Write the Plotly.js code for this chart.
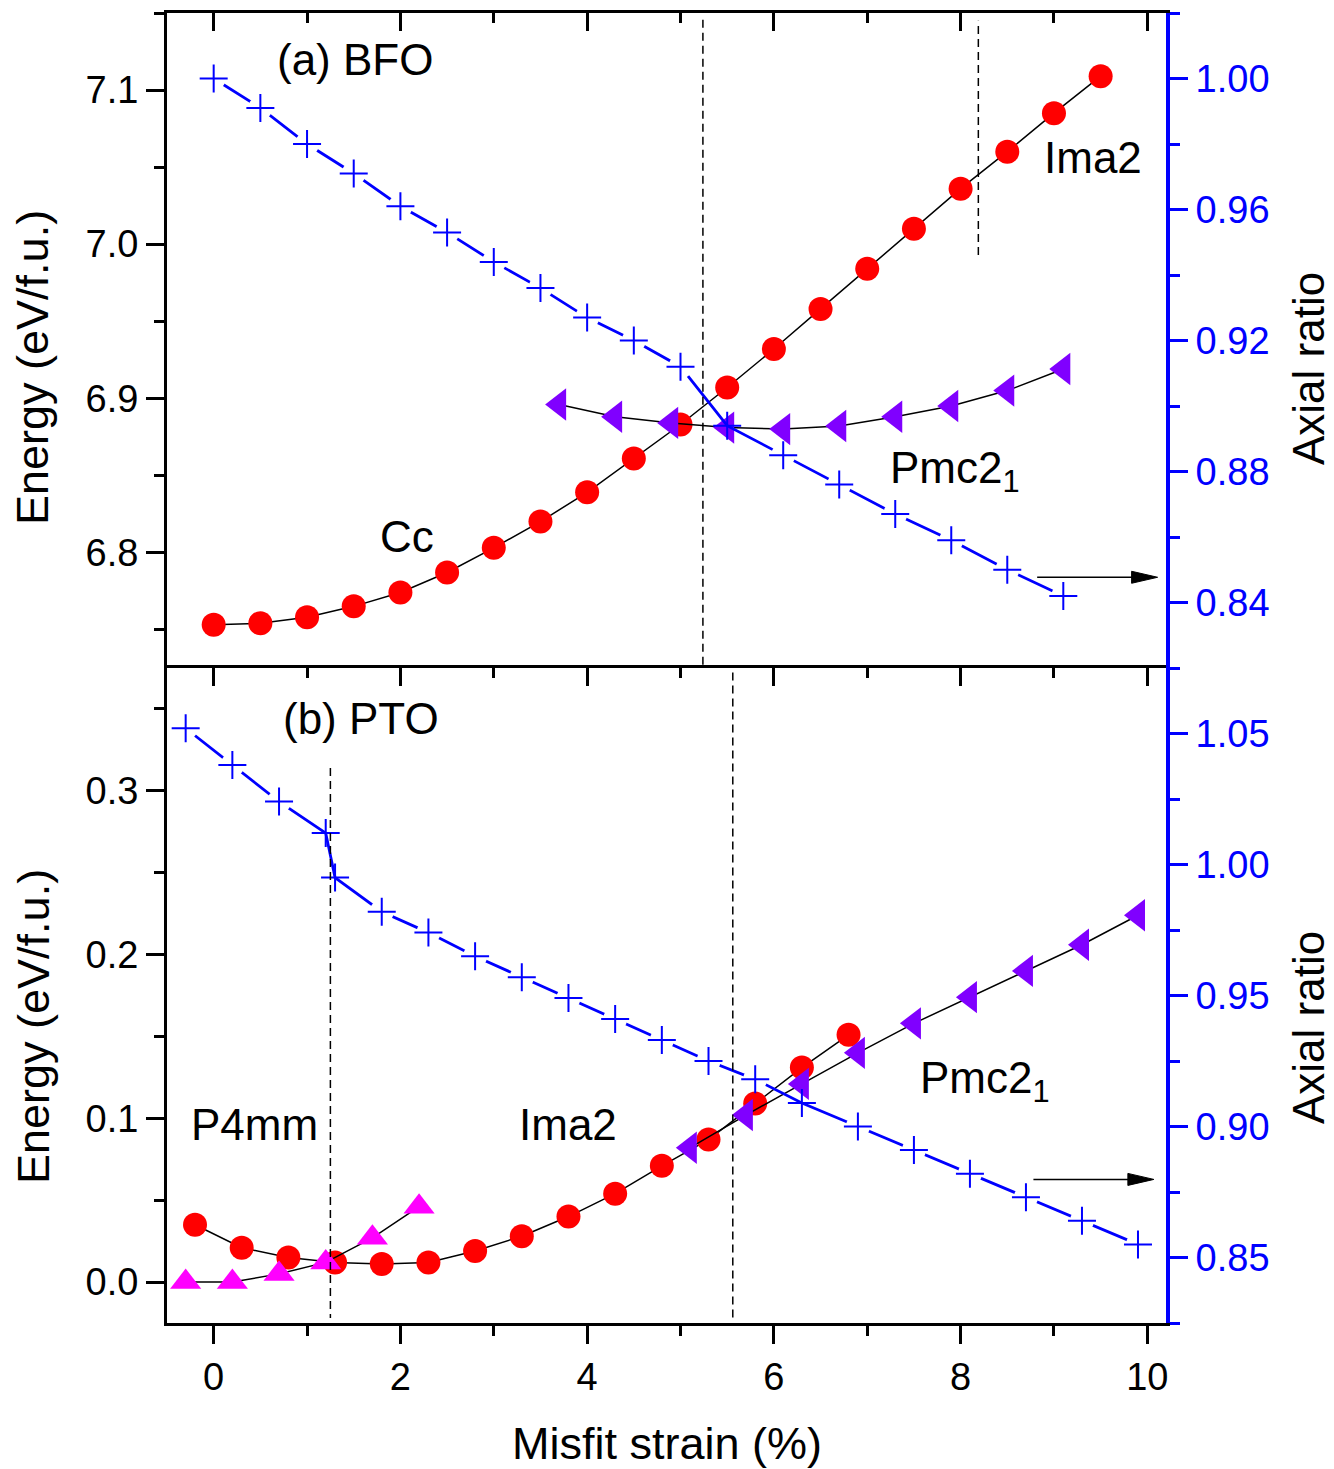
<!DOCTYPE html>
<html>
<head>
<meta charset="utf-8">
<script src="https://cdn.plot.ly/plotly-3.0.1.min.js"></script>
<style>html,body{margin:0;padding:0;background:#fff;}</style>
</head>
<body>
<div id="chart" style="width:1334px;height:1469px;"></div>
<script>
// ---------------- Panel (a) BFO ----------------
const bfoCcStrain  = [0,0.5,1,1.5,2,2.5,3,3.5,4,4.5,5,5.5,6,6.5,7,7.5,8,8.5,9,9.5];
const bfoCcEnergy  = [6.753,6.754,6.758,6.765,6.774,6.787,6.803,6.820,6.839,6.861,6.883,6.907,6.932,6.958,6.984,7.010,7.036,7.060,7.085,7.109];
const bfoPmcStrain = [3.7,4.3,4.9,5.5,6.1,6.7,7.3,7.9,8.5,9.1];
const bfoPmcEnergy = [6.896,6.888,6.884,6.881,6.880,6.882,6.888,6.895,6.905,6.919];
const bfoRatioStrain = [0,0.5,1,1.5,2,2.5,3,3.5,4,4.5,5,5.5,6.1,6.7,7.3,7.9,8.5,9.1];
const bfoRatio       = [1.000,0.991,0.980,0.971,0.961,0.953,0.944,0.936,0.927,0.920,0.912,0.894,0.885,0.876,0.867,0.859,0.850,0.842];
const bfoBoundaries  = [5.24, 8.19];

// ---------------- Panel (b) PTO ----------------
const ptoP4mmStrain = [-0.3,0.2,0.7,1.2,1.7,2.2];
const ptoP4mmEnergy = [0.000,0.000,0.005,0.012,0.027,0.046];
const ptoImaStrain  = [-0.2,0.3,0.8,1.3,1.8,2.3,2.8,3.3,3.8,4.3,4.8,5.3,5.8,6.3,6.8];
const ptoImaEnergy  = [0.035,0.021,0.015,0.012,0.011,0.012,0.019,0.028,0.040,0.054,0.071,0.087,0.109,0.131,0.151];
const ptoPmcStrain  = [5.1,5.7,6.3,6.9,7.5,8.1,8.7,9.3,9.9];
const ptoPmcEnergy  = [0.082,0.102,0.121,0.140,0.158,0.174,0.190,0.206,0.224];
const ptoRatioStrain = [-0.3,0.2,0.7,1.2,1.3,1.8,2.3,2.8,3.3,3.8,4.3,4.8,5.3,5.8,6.3,6.9,7.5,8.1,8.7,9.3,9.9];
const ptoRatio       = [1.052,1.038,1.024,1.012,0.995,0.982,0.974,0.965,0.957,0.949,0.941,0.933,0.925,0.918,0.909,0.900,0.891,0.882,0.873,0.864,0.855];
const ptoBoundaries  = [1.25, 5.56];

// tick labels
const xTickVals = [0,2,4,6,8,10];

// ---------------- styling ----------------
const FONT = 'Liberation Sans, Arial, Helvetica, sans-serif';
const BLACK = '#000000', BLUE = '#0000FF', RED = '#FF0000', VIOLET = '#8000FF', MAGENTA = '#FF00FF';
const W = 1334, H = 1469, ML = 167, MR = 168, MT = 13, MB = 146;
const PW = W - ML - MR, PH = H - MT - MB;
const px2x = p => (p - ML) / PW;
const py2y = p => (H - MB - p) / PH;

// points where the line gap around a "+" would hide neighbouring symbols (style only)
const bfoNoGap = [5.5];
const ptoNoGap = [1.2, 1.3, 6.3];

const connector = {color: BLACK, width: 1.5};
function circleTrace(x, y, xa, ya) {
  return {x, y, xaxis: xa, yaxis: ya, type: 'scatter', mode: 'lines+markers',
    line: connector, marker: {symbol: 'circle', size: 24, color: RED, line: {width: 0}}, hoverinfo: 'skip'};
}
function triTrace(x, y, xa, ya, sym, col, sz) {
  return {x, y, xaxis: xa, yaxis: ya, type: 'scatter', mode: 'lines+markers',
    line: connector, marker: {symbol: sym, size: sz, color: col, line: {width: 0}}, hoverinfo: 'skip'};
}
function ratioTraces(x, y, xa, ya, noGap) {
  const gapOpacity = x.map(v => noGap.some(s => Math.abs(s - v) < 1e-9) ? 0 : 1);
  return [
    {x, y, xaxis: xa, yaxis: ya, type: 'scatter', mode: 'lines', line: {color: BLUE, width: 2.8}, hoverinfo: 'skip'},
    {x, y, xaxis: xa, yaxis: ya, type: 'scatter', mode: 'markers',
      marker: {symbol: 'circle', size: 24, color: '#ffffff', opacity: gapOpacity, line: {width: 0}}, hoverinfo: 'skip'},
    {x, y, xaxis: xa, yaxis: ya, type: 'scatter', mode: 'markers',
      marker: {symbol: 'cross-thin', size: 20, color: BLUE, line: {width: 2, color: BLUE}}, hoverinfo: 'skip'}
  ];
}

const traces = [
  circleTrace(bfoCcStrain, bfoCcEnergy, 'x2', 'y3'),
  triTrace(bfoPmcStrain, bfoPmcEnergy, 'x2', 'y3', 'triangle-left', VIOLET, 28),
  ...ratioTraces(bfoRatioStrain, bfoRatio, 'x2', 'y4', bfoNoGap),
  circleTrace(ptoImaStrain, ptoImaEnergy, 'x', 'y'),
  triTrace(ptoP4mmStrain, ptoP4mmEnergy, 'x', 'y', 'triangle-up', MAGENTA, 27),
  triTrace(ptoPmcStrain, ptoPmcEnergy, 'x', 'y', 'triangle-left', VIOLET, 28),
  ...ratioTraces(ptoRatioStrain, ptoRatio, 'x', 'y2', ptoNoGap),
  // invisible anchor for top axis of panel (b)
  {x: [0], y: [0], xaxis: 'x3', yaxis: 'y', type: 'scatter', mode: 'markers', marker: {opacity: 0}, hoverinfo: 'skip'}
];

const XR = [-0.5, 10.2];
const TF = 38;
const tickFont = {family: FONT, size: TF, color: BLACK};
const blueFont = {family: FONT, size: TF, color: BLUE};
const MAJ = 18, MIN = 10, TW = 3;

function xAxis(extra) {
  return Object.assign({range: XR, tickmode: 'array', tickvals: xTickVals, ticktext: xTickVals.map(String),
    ticklen: MAJ, tickwidth: TW, tickcolor: BLACK, showline: true, linewidth: 3, linecolor: BLACK,
    showgrid: false, zeroline: false, tickfont: tickFont}, extra);
}
function minorX(dir) {
  return {tickmode: 'linear', tick0: 0, dtick: 1, ticks: dir, ticklen: MIN, tickwidth: TW, tickcolor: BLACK, showgrid: false};
}
function yAxis(extra, col, font) {
  return Object.assign({tickmode: 'linear', ticklen: MAJ, tickwidth: TW, tickcolor: col, ticks: 'outside',
    showline: true, linecolor: col, showgrid: false, zeroline: false, tickfont: font}, extra);
}
function minorY(dt, col) {
  return {tickmode: 'linear', tick0: 0, dtick: dt, ticks: 'outside', ticklen: MIN, tickwidth: TW, tickcolor: col, showgrid: false};
}

const txt = (size) => ({family: FONT, size: size, color: BLACK});
function label(text, xr, yr, x, y) {
  return {text, xref: xr, yref: yr, x, y, xanchor: 'center', yanchor: 'middle', showarrow: false, font: txt(44)};
}
function paperLabel(text, px, py, angle, size) {
  return {text, xref: 'paper', yref: 'paper', x: px2x(px), y: py2y(py), xanchor: 'center', yanchor: 'middle',
    textangle: angle, showarrow: false, font: txt(size)};
}
const dashed = {color: BLACK, width: 1.5, dash: '8px,5px'};

const layout = {
  width: W, height: H,
  margin: {l: ML, r: MR, t: MT, b: MB, pad: 0},
  paper_bgcolor: '#ffffff', plot_bgcolor: 'rgba(0,0,0,0)',
  showlegend: false, hovermode: false,
  font: {family: FONT, color: BLACK},
  xaxis: xAxis({domain: [0, 1], anchor: 'y', ticks: 'outside', minor: minorX('outside')}),
  xaxis2: xAxis({domain: [0, 1], anchor: 'y3', side: 'top', ticks: 'inside', showticklabels: false, minor: minorX('inside')}),
  xaxis3: xAxis({overlaying: 'x', anchor: 'y', side: 'top', ticks: 'inside', showticklabels: false, minor: minorX('inside')}),
  yaxis: yAxis({domain: [0, 0.5], anchor: 'x', range: [-0.025, 0.375], tick0: 0, dtick: 0.1, tickformat: '.1f', linewidth: 3,
    minor: minorY(0.05, BLACK)}, BLACK, tickFont),
  yaxis2: yAxis({overlaying: 'y', side: 'right', anchor: 'x', range: [0.825, 1.075], tick0: 0, dtick: 0.05, tickformat: '.2f', linewidth: 4,
    minor: minorY(0.025, BLUE)}, BLUE, blueFont),
  yaxis3: yAxis({domain: [0.5, 1], anchor: 'x2', range: [6.725, 7.15], tick0: 0, dtick: 0.1, tickformat: '.1f', linewidth: 3,
    minor: minorY(0.05, BLACK)}, BLACK, tickFont),
  yaxis4: yAxis({overlaying: 'y3', side: 'right', anchor: 'x2', range: [0.82, 1.02], tick0: 0, dtick: 0.04, tickformat: '.2f', linewidth: 4,
    minor: minorY(0.02, BLUE)}, BLUE, blueFont),
  shapes: [
    // phase boundaries (a)
    {type: 'line', xref: 'x2', yref: 'y3 domain', x0: bfoBoundaries[0], x1: bfoBoundaries[0], y0: 0.005, y1: 0.99, line: dashed},
    {type: 'line', xref: 'x2', yref: 'y3', x0: bfoBoundaries[1], x1: bfoBoundaries[1], y0: 6.993, y1: 7.145, line: dashed},
    // phase boundaries (b)
    {type: 'line', xref: 'x', yref: 'y', x0: ptoBoundaries[0], x1: ptoBoundaries[0], y0: 0.314, y1: -0.022, line: dashed},
    {type: 'line', xref: 'x', yref: 'y domain', x0: ptoBoundaries[1], x1: ptoBoundaries[1], y0: 0.993, y1: 0.005, line: dashed},
    // arrows pointing to the right axis
    {type: 'line', xref: 'x2', yref: 'y4', x0: 8.82, x1: 10.0, y0: 0.8477, y1: 0.8477, line: {color: BLACK, width: 1.5}},
    {type: 'path', xref: 'x2', yref: 'y4', xsizemode: 'pixel', ysizemode: 'pixel', xanchor: 10.11, yanchor: 0.8477,
      path: 'M-26,-6 L0,0 L-26,6 Z', fillcolor: BLACK, line: {color: BLACK, width: 1}},
    {type: 'line', xref: 'x', yref: 'y2', x0: 8.78, x1: 9.95, y0: 0.8798, y1: 0.8798, line: {color: BLACK, width: 1.5}},
    {type: 'path', xref: 'x', yref: 'y2', xsizemode: 'pixel', ysizemode: 'pixel', xanchor: 10.07, yanchor: 0.8798,
      path: 'M-26,-6 L0,0 L-26,6 Z', fillcolor: BLACK, line: {color: BLACK, width: 1}}
  ],
  annotations: [
    label('(a) BFO', 'x2', 'y3', 1.51, 7.1197),
    label('Ima2', 'x2', 'y3', 9.42, 7.056),
    label('Pmc2<sub>1</sub>', 'x2', 'y3', 7.94, 6.853),
    label('Cc', 'x2', 'y3', 2.07, 6.8103),
    label('(b) PTO', 'x', 'y', 1.58, 0.344),
    label('P4mm', 'x', 'y', 0.44, 0.096),
    label('Ima2', 'x', 'y', 3.79, 0.096),
    label('Pmc2<sub>1</sub>', 'x', 'y', 8.26, 0.123),
    // axis titles
    paperLabel('Energy (eV/f.u.)', 33, 368, -90, 45),
    paperLabel('Energy (eV/f.u.)', 33, 1027, -90, 45),
    paperLabel('Axial ratio', 1308, 369, -90, 44),
    paperLabel('Axial ratio', 1308, 1028, -90, 44),
    paperLabel('Misfit strain (%)', 667, 1443, 0, 45)
  ]
};

Plotly.newPlot('chart', traces, layout, {staticPlot: true, displayModeBar: false});
</script>
</body>
</html>
